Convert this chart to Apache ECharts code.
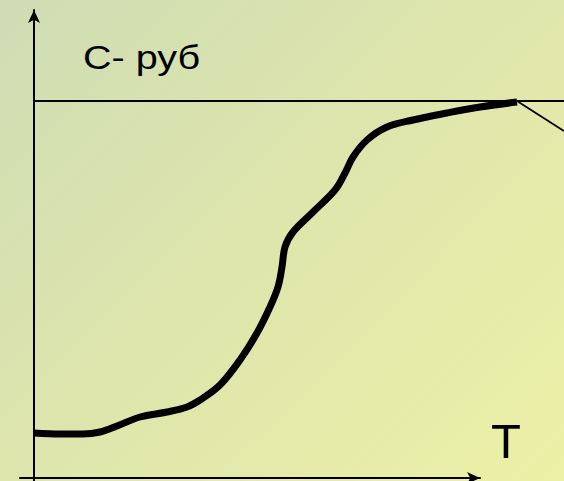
<!DOCTYPE html>
<html>
<head>
<meta charset="utf-8">
<script src="https://cdn.jsdelivr.net/npm/echarts@6/dist/echarts.min.js"></script>
<style>
html,body{margin:0;padding:0;}
#chart{width:564px;height:481px;background:linear-gradient(135deg,#cfdcb4 0%,#dfe6ac 50%,#ecf0a6 100%);}
</style>
</head>
<body>
<div id="chart"></div>
<script>
// Curve: T (time) vs C (cost)
var curveT = [0, 26, 49, 66, 83, 106, 133, 153, 166, 186, 206, 223, 236, 244, 248, 251, 259, 278, 301, 311, 319, 333, 353, 379, 413, 446, 483];
var curveC = [45, 44, 44, 46, 52, 61, 66, 71, 78, 93, 118, 145, 171, 191, 211, 231, 246, 265, 288, 305, 321, 338, 351, 358, 365, 371, 376];
// Horizontal limit line (C level) and descending segment after peak
var limitT = [0, 530];
var limitC = [377, 377];
var dropT = [483, 530];
var dropC = [377, 347];
var axisLabelC = 'C- руб';
var axisLabelT = 'T';

function pairs(xs, ys){ return xs.map(function(x,i){ return [x, ys[i]]; }); }

var hidden = {axisLine:{show:false}, axisTick:{show:false}, axisLabel:{show:false}, splitLine:{show:false}};
var arrowLine = {show: true, onZero: true, symbol: ['none','arrow'], symbolSize: [9,13], lineStyle: {color:'#000', width:2}};

var chart = echarts.init(document.getElementById('chart'), null, {renderer:'svg'});
chart.setOption({
  backgroundColor: 'transparent',
  animation: false,
  grid: [
    {left: 20, right: 0, top: 10, bottom: 0},
    {left: 20, right: 84, top: 10, bottom: 0}
  ],
  xAxis: [
    Object.assign({type:'value', gridIndex:0, min:-14, max:530}, hidden),
    {type:'value', gridIndex:1, min:-14, max:446, axisLine: arrowLine, axisTick:{show:false}, axisLabel:{show:false}, splitLine:{show:false}}
  ],
  yAxis: [
    Object.assign({type:'value', gridIndex:0, min:-3, max:468}, hidden),
    {type:'value', gridIndex:1, min:-3, max:468, axisLine: arrowLine, axisTick:{show:false}, axisLabel:{show:false}, splitLine:{show:false}}
  ],
  graphic: [
    {type:'text', x: 83, y: 57.3, scaleX: 1.2, style:{text: axisLabelC, font: '33px "Liberation Sans", Arial, sans-serif', fill:'#000', align:'left', verticalAlign:'middle'}},
    {type:'text', x: 491, y: 441, style:{text: axisLabelT, font: '49px "Liberation Sans", Arial, sans-serif', fill:'#000', align:'left', verticalAlign:'middle'}}
  ],
  series: [
    {type:'line', xAxisIndex:0, yAxisIndex:0, data: pairs(limitT, limitC), symbol:'none', lineStyle:{color:'#000', width:2}},
    {type:'line', xAxisIndex:0, yAxisIndex:0, data: pairs(dropT, dropC), symbol:'none', lineStyle:{color:'#000', width:1.8}},
    {type:'line', xAxisIndex:0, yAxisIndex:0, data: pairs(curveT, curveC), symbol:'none', smooth:0.35, lineStyle:{color:'#000', width:7, cap:'butt', join:'round'}},
    {type:'line', xAxisIndex:1, yAxisIndex:1, data: [], symbol:'none'}
  ]
});
</script>
</body>
</html>
